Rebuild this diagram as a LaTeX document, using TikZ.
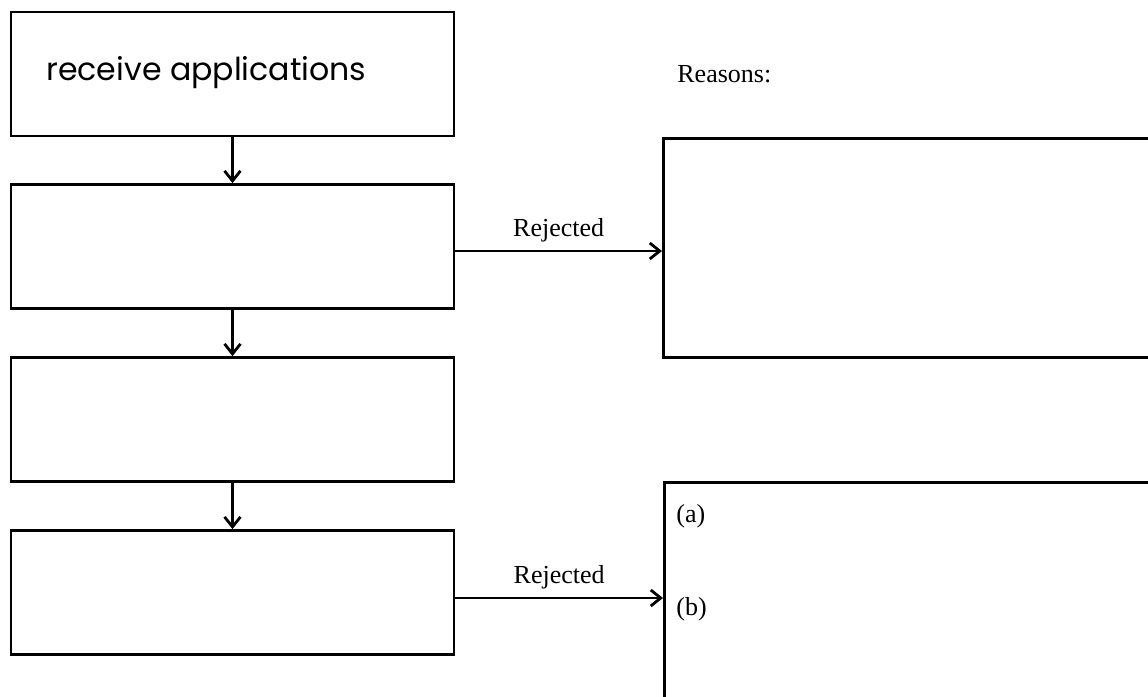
\documentclass[tikz,border=0pt]{standalone}
\usepackage{fontspec}
\setmainfont{Liberation Serif}
\newfontfamily\handfont{Poppins}
\usetikzlibrary{arrows.meta, positioning, calc}

\begin{document}
\begin{tikzpicture}[x=0.5pt, y=-0.5pt,
  box/.style={draw, rectangle, line width=1.4pt, minimum width=221.5pt, minimum height=62pt, inner sep=0pt},
  reasonbox/.style={draw, rectangle, line width=1.4pt, anchor=north west, inner sep=0pt},
  flow/.style={-{Straight Barb[length=5pt, width=8pt, line width=1.4pt]}, line width=1.1pt},
  lbl/.style={font=\fontsize{13}{15}\selectfont, inner sep=0pt}]
\useasboundingbox (0,0) rectangle (1148,697);
\clip (0,0) rectangle (1148,697);

% Left column of steps
\node[box] (recv) at (232.5, 74) {};
\node[font=\handfont\fontsize{15.8}{18}\selectfont, inner sep=0pt, anchor=base west] (recvtext) at (46, 80) {receive applications};
\node[box] (stepb) at (232.5, 246.5) {};
\node[box] (stepc) at (232.5, 419.5) {};
\node[box] (stepd) at (232.5, 592.5) {};

% Right boxes (run off the page)
\node[reasonbox, minimum width=300pt, minimum height=109.5pt] (reasonsa) at (662, 137) {};
\node[reasonbox, minimum width=300pt, minimum height=150pt] (reasonsb) at (663, 481) {};

% Texts
\node[lbl, anchor=base west] (reasons) at (677, 82) {Reasons:};
\node[lbl, anchor=base west] (itema) at (676, 522) {(a)};
\node[lbl, anchor=base west] (itemb) at (676, 615) {(b)};

% Arrows
\draw[flow] (recv) -- (stepb);
\draw[flow] (stepb) -- (stepc);
\draw[flow] (stepc) -- (stepd);
\draw[flow] ([yshift=-2.25pt]stepb.east) -- ([yshift=-2.25pt]stepb.east -| reasonsa.west)
  node[lbl, midway, above=4pt] {Rejected};
\draw[flow] ([yshift=-2.75pt]stepd.east) -- ([yshift=-2.75pt]stepd.east -| reasonsb.west)
  node[lbl, midway, above=4pt] {Rejected};
\end{tikzpicture}
\end{document}
